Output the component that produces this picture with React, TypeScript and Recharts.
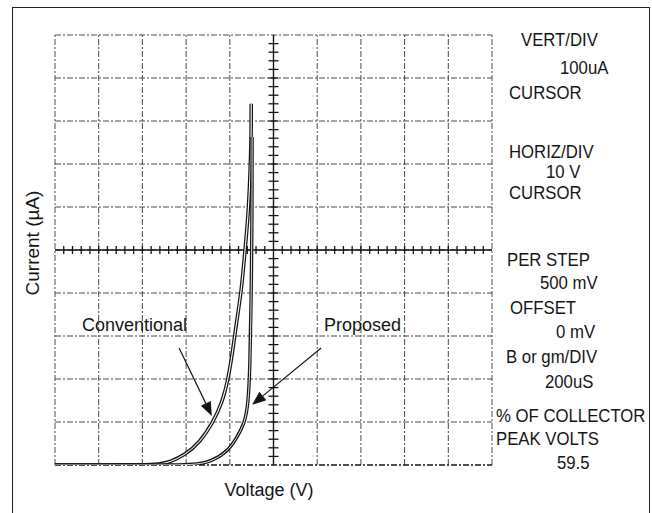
import React from 'react';
import {
  ComposedChart,
  Line,
  Scatter,
  XAxis,
  YAxis,
  ReferenceLine,
} from 'recharts';

// screen is 10 x 10 divisions: 10 V/div horizontally, 100 uA/div vertically
const voltTicks = [0, 10, 20, 30, 40, 50, 60, 70, 80, 90, 100];
const currTicks = [0, 100, 200, 300, 400, 500, 600, 700, 800, 900, 1000];

// minor graticule marks on the centre cross (5 per division)
const minorVolt = [
  2, 4, 6, 8, 12, 14, 16, 18, 22, 24, 26, 28, 32, 34, 36, 38, 42, 44, 46, 48,
  52, 54, 56, 58, 62, 64, 66, 68, 72, 74, 76, 78, 82, 84, 86, 88, 92, 94, 96, 98,
  10, 20, 30, 40, 60, 70, 80, 90,
];
const minorCurr = [
  20, 40, 60, 80, 120, 140, 160, 180, 220, 240, 260, 280, 320, 340, 360, 380,
  420, 440, 460, 480, 520, 540, 560, 580, 620, 640, 660, 680, 720, 740, 760, 780,
  820, 840, 860, 880, 920, 940, 960, 980, 100, 200, 300, 400, 600, 700, 800, 900,
];

const convVolt = [0, 10, 20, 24, 26.3, 29.7, 33.2, 36.2, 38.2, 39.6, 40.7, 41.6, 42.6, 43.5, 44.2, 44.6, 44.9, 44.9];
const convCurr = [0, 0, 0, 2, 7, 23, 53, 100, 144, 198, 267, 337, 400, 500, 581, 663, 760, 840];

const propVolt = [0, 10, 20, 29.3, 32.5, 35.5, 39.4, 41.6, 43.5, 44.2, 44.6, 44.9, 45.1, 45.1];
const propCurr = [0, 0, 0, 0, 2, 7, 30, 63, 100, 144, 221, 384, 600, 763];

// annotation arrows: [fromV, fromI, toV, toI]
const convArrow = [28.4, 272, 35.9, 114];
const propArrow = [60.9, 272, 45.1, 140];

const settings = [
  { text: 'VERT/DIV', left: 521, cy: 40 },
  { text: '100uA', left: 560, cy: 68 },
  { text: 'CURSOR', left: 509, cy: 93 },
  { text: 'HORIZ/DIV', left: 509, cy: 152 },
  { text: '10 V', left: 546, cy: 172 },
  { text: 'CURSOR', left: 509, cy: 193 },
  { text: 'PER STEP', left: 507, cy: 260 },
  { text: '500 mV', left: 540, cy: 283 },
  { text: 'OFFSET', left: 510, cy: 308 },
  { text: '0 mV', left: 556, cy: 332 },
  { text: 'B or gm/DIV', left: 506, cy: 357 },
  { text: '200uS', left: 545, cy: 382 },
  { text: '% OF COLLECTOR', left: 496, cy: 416 },
  { text: 'PEAK VOLTS', left: 496, cy: 439 },
  { text: '59.5', left: 557, cy: 463 },
];

const toPoints = (vs: number[], is: number[]) => vs.map((v, k) => ({ v, i: is[k] }));
const convData = toPoints(convVolt, convCurr);
const propData = toPoints(propVolt, propCurr);
const hTicks = minorVolt.map((v) => ({ v, i: 500 }));
const vTicks = minorCurr.map((i) => ({ v: 50, i }));

const ink = '#151515';
const gridInk = '#4a4a4a';
const font = '"Liberation Sans", Arial, sans-serif';

const HTick = (p: any) => (
  <line x1={p.cx} x2={p.cx} y1={p.cy - 4} y2={p.cy + 4} stroke={ink} strokeWidth={1.3} />
);
const VTick = (p: any) => (
  <line x1={p.cx - 5} x2={p.cx + 5} y1={p.cy} y2={p.cy} stroke={ink} strokeWidth={1.3} />
);

const Arrow = (p: any) => {
  const { x1, y1, x2, y2 } = p;
  const a = Math.atan2(y2 - y1, x2 - x1);
  const len = 14;
  const w = 5.5;
  const bx = x2 - len * Math.cos(a);
  const by = y2 - len * Math.sin(a);
  const pts = [
    `${x2},${y2}`,
    `${bx + w * Math.sin(a)},${by - w * Math.cos(a)}`,
    `${bx - w * Math.sin(a)},${by + w * Math.cos(a)}`,
  ].join(' ');
  return (
    <g>
      <line x1={x1} y1={y1} x2={bx} y2={by} stroke={ink} strokeWidth={1.2} />
      <polygon points={pts} fill={ink} />
    </g>
  );
};

const textStyle: React.CSSProperties = {
  position: 'absolute',
  fontFamily: font,
  color: ink,
  whiteSpace: 'nowrap',
  lineHeight: '20px',
};

export default function App() {
  return (
    <div style={{ position: 'absolute', left: 0, top: 0, width: 652, height: 513, overflow: 'hidden', background: '#fff' }}>
      <div
        style={{
          position: 'absolute',
          left: 12,
          top: 7,
          width: 636,
          height: 530,
          border: '1.5px solid #222',
          borderBottom: 'none',
        }}
      />
      <ComposedChart
        width={652}
        height={513}
        margin={{ top: 35, right: 160, bottom: 48, left: 55 }}
        style={{ position: 'absolute', left: 0, top: 0 }}
      >
        <XAxis
          dataKey="v"
          type="number"
          domain={[0, 100]}
          ticks={voltTicks}
          height={0}
          axisLine={false}
          tickLine={false}
          tick={false}
          allowDataOverflow
        />
        <YAxis
          dataKey="i"
          type="number"
          domain={[0, 1000]}
          ticks={currTicks}
          width={0}
          axisLine={false}
          tickLine={false}
          tick={false}
          allowDataOverflow
        />
        {voltTicks.map((v) => (
          <ReferenceLine key={`gv${v}`} x={v} stroke={gridInk} strokeWidth={1} strokeDasharray="6 2 2 2" />
        ))}
        {currTicks.map((c) => (
          <ReferenceLine
            key={`gh${c}`}
            y={c}
            stroke={c === 0 ? ink : gridInk}
            strokeWidth={c === 0 ? 1.6 : 1}
            strokeDasharray="6 2 2 2"
          />
        ))}
        <ReferenceLine x={50} stroke={ink} strokeWidth={1.4} />
        <ReferenceLine y={500} stroke={ink} strokeWidth={1.4} />
        <Scatter data={hTicks} dataKey="i" shape={HTick} isAnimationActive={false} />
        <Scatter data={vTicks} dataKey="i" shape={VTick} isAnimationActive={false} />

        <Line data={convData} dataKey="i" type="basis" stroke={ink} strokeWidth={3.6} dot={false} isAnimationActive={false} />
        <Line data={convData} dataKey="i" type="basis" stroke="#fff" strokeWidth={1.1} dot={false} isAnimationActive={false} />
        <Line data={propData} dataKey="i" type="basis" stroke={ink} strokeWidth={3.4} dot={false} isAnimationActive={false} />
        <Line data={propData} dataKey="i" type="basis" stroke="#fff" strokeWidth={0.9} dot={false} isAnimationActive={false} />

        <ReferenceLine
          segment={[{ x: convArrow[0], y: convArrow[1] }, { x: convArrow[2], y: convArrow[3] }]}
          shape={Arrow}
        />
        <ReferenceLine
          segment={[{ x: propArrow[0], y: propArrow[1] }, { x: propArrow[2], y: propArrow[3] }]}
          shape={Arrow}
        />
      </ComposedChart>

      <div style={{ ...textStyle, left: 82, top: 315, fontSize: 18 }}>Conventional</div>
      <div style={{ ...textStyle, left: 324, top: 315, fontSize: 18 }}>Proposed</div>
      <div style={{ ...textStyle, left: 269, top: 480, fontSize: 18, transform: 'translateX(-50%)' }}>Voltage (V)</div>
      <div
        style={{
          ...textStyle,
          left: 33,
          top: 243,
          fontSize: 19,
          transform: 'translate(-50%, -50%) rotate(-90deg)',
        }}
      >
        Current (µA)
      </div>

      {settings.map((s, k) => (
        <div
          key={k}
          style={{
            ...textStyle,
            left: s.left,
            top: s.cy - 10,
            fontSize: 18,
            transform: 'scaleX(0.93)',
            transformOrigin: 'left center',
          }}
        >
          {s.text}
        </div>
      ))}
    </div>
  );
}
